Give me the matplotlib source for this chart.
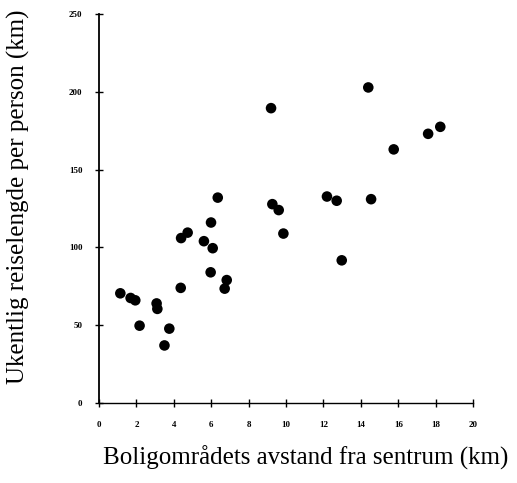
import matplotlib.pyplot as plt
import numpy as np

# avstand fra sentrum (km) og ukentlig reiselengde (km)
avstand = [1.14, 1.69, 1.94, 2.17, 3.08, 3.12, 3.5, 3.76, 4.37, 4.39,
           4.74, 5.61, 5.99, 6.08, 5.97, 6.35, 6.72, 6.83,
           9.2, 14.4, 18.25, 17.6, 15.76, 9.27, 9.61, 9.86,
           12.19, 12.71, 14.55, 12.98]
reiselengde = [70.5, 67.5, 66, 49.7, 64, 60.5, 37, 47.8, 74, 106,
               109.5, 104, 116, 99.5, 84, 132, 73.5, 79,
               189.5, 202.8, 177.5, 173, 163, 127.8, 124, 108.9,
               132.7, 130, 131, 91.7]

xticks = np.arange(0, 21, 2)
yticks = np.arange(0, 251, 50)

fig = plt.figure(figsize=(5.17, 4.83), dpi=100)
ax = fig.add_axes([0.1915, 0.1656, 0.7234, 0.8054])

ax.scatter(avstand, reiselengde, s=58, color='black', edgecolors='none')

ax.set_xlim(0, 20)
ax.set_ylim(0, 250)
ax.set_xticks(xticks)
ax.set_yticks(yticks)
ax.tick_params(direction='inout', length=6, width=1, labelsize=6.5)
ax.tick_params(axis='x', pad=10)
ax.tick_params(axis='y', pad=9)
for lab in ax.get_xticklabels() + ax.get_yticklabels():
    lab.set_fontfamily('Liberation Serif')
    lab.set_fontweight('bold')

for s in ['top', 'right']:
    ax.spines[s].set_visible(False)
ax.spines['left'].set_linewidth(1.3)
ax.spines['bottom'].set_linewidth(1.0)

fig.text(18 / 517, 1 - 197 / 483, 'Ukentlig reiselengde per person (km)',
         rotation=90, ha='center', va='center',
         fontsize=18, family='Liberation Serif')
fig.text(306 / 517, 1 - 458 / 483, 'Boligområdets avstand fra sentrum (km)',
         ha='center', va='center', fontsize=18, family='Liberation Serif')

plt.savefig('out.png', dpi=100)
